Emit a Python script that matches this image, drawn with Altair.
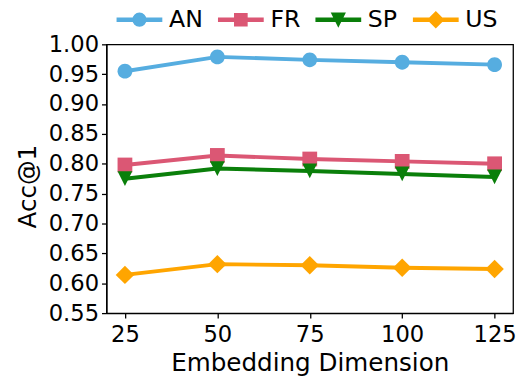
import altair as alt
import pandas as pd

dims = [25, 50, 75, 100, 125]
series_names = ["AN", "FR", "SP", "US"]
acc_an = [0.955, 0.979, 0.974, 0.970, 0.966]
acc_fr = [0.798, 0.814, 0.808, 0.804, 0.800]
acc_sp = [0.775, 0.792, 0.788, 0.783, 0.778]
acc_us = [0.614, 0.632, 0.630, 0.626, 0.624]
colors = ["#56ADE0", "#DB5774", "#0A7F0A", "#FFA500"]
y_ticks = [0.55, 0.60, 0.65, 0.70, 0.75, 0.80, 0.85, 0.90, 0.95, 1.00]

marker_paths = [
    "M1,0A1,1,0,1,1,-1,0A1,1,0,1,1,1,0Z",
    "M-1,-1L1,-1L1,1L-1,1Z",
    "M-1,-1L1,-1L0,1Z",
    "M0,-1.25L1.25,0L0,1.25L-1.25,0Z",
]
LINE = "M-3.46,-0.23L3.46,-0.23L3.46,0.23L-3.46,0.23Z"
legend_paths = [
    LINE + "M1,0A1,1,0,1,1,-1,0A1,1,0,1,1,1,0Z",
    LINE + "M-0.95,-0.95L0.95,-0.95L0.95,0.95L-0.95,0.95Z",
    LINE + "M-1,-1L1,-1L0,1Z",
    LINE + "M0,-1.2L1.2,0L0,1.2L-1.2,0Z",
]

rows = []
for name, vals in zip(series_names, [acc_an, acc_fr, acc_sp, acc_us]):
    for d, v in zip(dims, vals):
        rows.append({"dim": d, "acc": v, "series": name})
df = pd.DataFrame(rows)

FONT = "DejaVu Sans"
x_enc = alt.X("dim:Q", scale=alt.Scale(domain=[20, 130], nice=False, zero=False),
              axis=alt.Axis(values=dims, title="Embedding Dimension"))
y_enc = alt.Y("acc:Q", scale=alt.Scale(domain=[0.55, 1.0], nice=False, zero=False),
              axis=alt.Axis(values=y_ticks, format=".2f", title="Acc@1", titleY=144))
color_scale = alt.Scale(domain=series_names, range=colors)

base = alt.Chart(df)

leg = alt.Legend(orient="none", legendX=9, legendY=-37, direction="horizontal", columns=4,
                 title=None, symbolSize=169, symbolOpacity=1, symbolOffset=12.5,
                 labelOffset=18, columnPadding=13, labelFont=FONT, labelFontSize=24,
                 labelColor="#000", labelLimit=0, padding=0)
legend_layer = base.mark_point(filled=True, opacity=0).encode(
    x=x_enc, y=y_enc,
    color=alt.Color("series:N", scale=color_scale, legend=leg),
    shape=alt.Shape("series:N", scale=alt.Scale(domain=series_names, range=legend_paths), legend=leg),
)
layers = [legend_layer]
for name, mpath in zip(series_names, marker_paths):
    sub = base.transform_filter(alt.datum.series == name)
    layers.append(sub.mark_line(strokeWidth=4).encode(
        x=x_enc, y=y_enc, color=alt.Color("series:N", scale=color_scale)))
    layers.append(sub.mark_point(shape=mpath, filled=True, size=225, opacity=1).encode(
        x=x_enc, y=y_enc, color=alt.Color("series:N", scale=color_scale)))

chart = alt.layer(*layers).properties(
    width=413, height=273,
    autosize=alt.AutoSizeParams(type="none"),
    padding={"left": 100, "top": 34, "right": 5, "bottom": 63},
).configure_view(stroke="#000", strokeWidth=1.3).configure_axis(
    domainColor="#000", domainWidth=1.3, tickColor="#000", tickSize=5, tickWidth=1.3,
    labelFont=FONT, labelFontSize=23, labelColor="#000",
    titleFont=FONT, titleFontSize=25, titleFontWeight="normal", titleColor="#000",
    grid=False,
).configure_axisY(titlePadding=8, labelPadding=3).configure_axisX(titlePadding=4, labelPadding=6)

chart.save("out.html", embed_options={"renderer": "svg", "actions": False})
